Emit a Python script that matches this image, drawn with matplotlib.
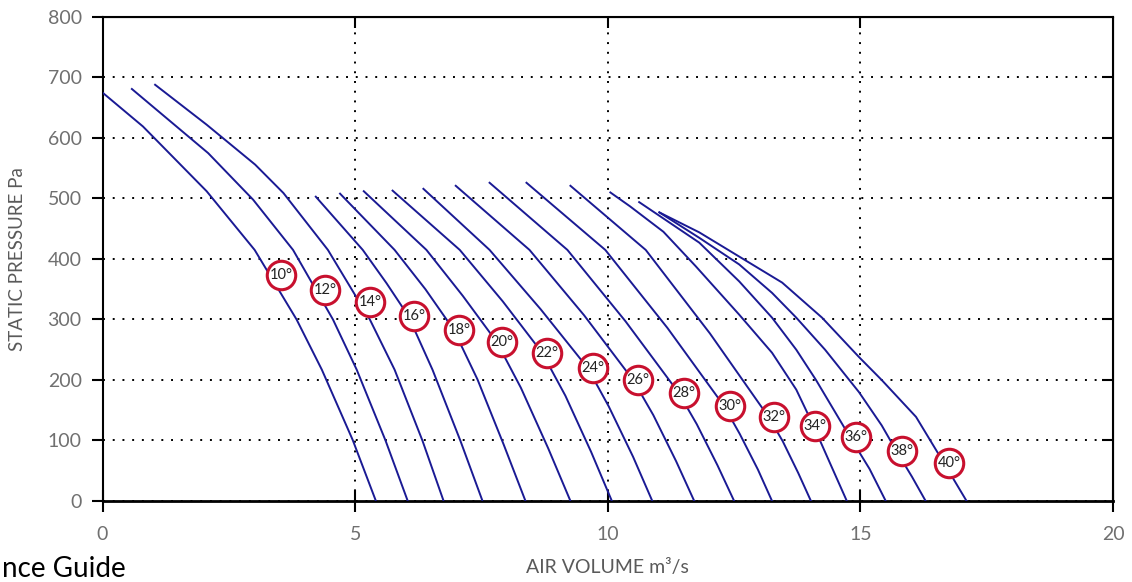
import matplotlib.pyplot as plt

# blade angle curves, air volume (m3/s) vs static pressure (Pa)
angles = [10, 12, 14, 16, 18, 20, 22, 24, 26, 28, 30, 32, 34, 36, 38, 40]

curve_x = [
    [0.0, 0.80, 2.06, 3.01, 3.84, 4.34, 4.95, 5.41],
    [0.58, 2.09, 2.98, 3.77, 4.56, 5.03, 5.60, 6.04],
    [1.04, 2.06, 3.02, 3.58, 4.46, 5.29, 5.78, 6.33, 6.75],
    [4.22, 5.15, 5.62, 6.05, 6.53, 7.08, 7.52],
    [4.70, 5.78, 6.39, 6.95, 7.42, 7.94, 8.37],
    [5.17, 6.41, 7.13, 7.80, 8.28, 8.82, 9.26],
    [5.74, 7.07, 7.92, 8.70, 9.16, 9.67, 10.08],
    [6.35, 7.66, 8.67, 9.60, 10.02, 10.50, 10.88],
    [6.99, 8.45, 9.53, 10.50, 10.90, 11.35, 11.71],
    [7.66, 9.20, 10.35, 11.40, 11.76, 12.17, 12.50],
    [8.39, 9.95, 11.18, 12.30, 12.61, 12.97, 13.25],
    [9.26, 10.75, 12.02, 13.18, 13.46, 13.77, 14.02],
    [10.05, 10.44, 11.10, 11.74, 12.60, 13.25, 13.73, 14.05, 14.40, 14.73],
    [10.62, 11.81, 12.60, 13.25, 13.73, 14.12, 14.79, 15.18, 15.50],
    [11.02, 11.81, 12.60, 13.25, 13.73, 14.30, 14.97, 15.42, 15.73, 16.02, 16.29],
    [11.02, 11.81, 12.60, 13.45, 14.24, 14.97, 15.42, 16.10, 16.60, 17.10],
]
curve_y = [
    [675, 619, 512, 415, 300, 217, 101, 0],
    [681, 575, 498, 415, 300, 217, 100, 0],
    [688, 622, 556, 509, 415, 300, 217, 100, 0],
    [503, 415, 360, 306, 217, 100, 0],
    [508, 415, 350, 283, 201, 93, 0],
    [512, 415, 339, 263, 187, 87, 0],
    [513, 415, 330, 245, 174, 81, 0],
    [516, 415, 317, 220, 156, 73, 0],
    [521, 415, 307, 200, 142, 66, 0],
    [526, 415, 297, 179, 127, 59, 0],
    [526, 415, 286, 157, 111, 52, 0],
    [521, 415, 277, 139, 99, 46, 0],
    [510, 487, 445, 388, 308, 245, 184, 128, 62, 0],
    [494, 427, 363, 303, 250, 200, 106, 53, 0],
    [477, 435, 391, 344, 303, 250, 180, 125, 80, 40, 0],
    [477, 444, 404, 361, 303, 238, 200, 139, 70, 0],
]

# angle badge positions
label_x = [3.53, 4.40, 5.29, 6.16, 7.06, 7.90, 8.80, 9.71, 10.60, 11.51,
           12.42, 13.29, 14.10, 14.91, 15.82, 16.75]
label_y = [374, 349, 329, 306, 283, 263, 245, 220, 200, 179, 157, 139, 124,
           106, 83, 63]

plt.rcParams['font.family'] = ['Lato', 'DejaVu Sans']

fig = plt.figure(figsize=(11.32, 5.82), dpi=100)
ax = fig.add_axes([0.0906, 0.1392, 0.8927, 0.8316])

for xs, ys in zip(curve_x, curve_y):
    ax.plot(xs, ys, color='#1a1a94', lw=1.4, zorder=3,
            solid_joinstyle='round')

ax.scatter(label_x, label_y, s=420, facecolor='white', edgecolor='#c8102e',
           linewidths=2.2, zorder=5)
for a, lx, ly in zip(angles, label_x, label_y):
    ax.text(lx, ly, f'{a}°', fontsize=10.5, color='#222222', ha='center',
            va='center', zorder=6)

ax.set_xlim(0, 20)
ax.set_ylim(0, 800)
ax.set_xticks([0, 5, 10, 15, 20])
ax.set_yticks(range(0, 900, 100))
ax.grid(True, color='black', linestyle=(0, (1, 4)), lw=1.4)
ax.set_axisbelow(True)

for s in ax.spines.values():
    s.set_linewidth(1.5)
ax.spines['bottom'].set_linewidth(2)

ax.tick_params(axis='x', direction='inout', length=16, width=1.5, pad=10,
               labelsize=14, labelcolor='#707070')
ax.tick_params(axis='y', direction='out', length=8, width=1.5, pad=7,
               labelsize=14, labelcolor='#707070')

top = ax.secondary_xaxis('top')
top.set_xticks([5, 10, 15])
top.tick_params(direction='in', length=8, width=1.5, labeltop=False)
right = ax.secondary_yaxis('right')
right.set_yticks(range(100, 800, 100))
right.tick_params(direction='in', length=8, width=1.5, labelright=False)

fig.text(18 / 1132, 1 - 259 / 582, 'STATIC PRESSURE Pa', rotation=90,
         fontsize=13.5, color='#5a5a5a', ha='center', va='center')
fig.text(607 / 1132, 1 - 567 / 582, 'AIR VOLUME m³/s', fontsize=14,
         color='#5a5a5a', ha='center', va='center')
fig.text(2 / 1132, 5 / 582, 'nce Guide', fontsize=20, color='black',
         ha='left', va='baseline')

fig.savefig('out.png', dpi=100)
